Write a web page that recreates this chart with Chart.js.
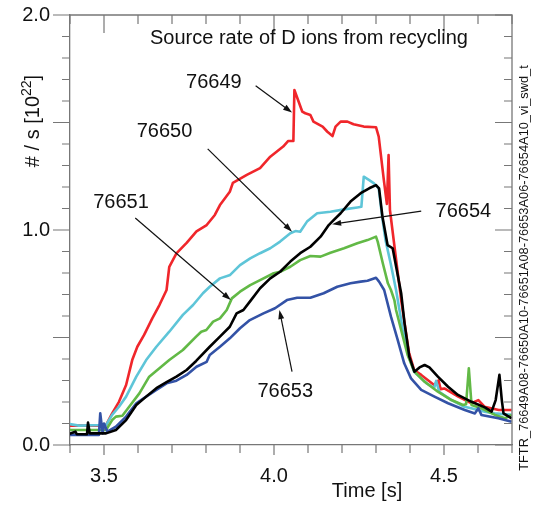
<!DOCTYPE html>
<html>
<head>
<meta charset="utf-8">
<script src="https://cdn.jsdelivr.net/npm/chart.js@4/dist/chart.umd.min.js"></script>
<style>
  html, body { margin: 0; padding: 0; background: #fff; }
  #wrap { width: 533px; height: 506px; }
</style>
</head>
<body>
<div id="wrap"><canvas id="chart" width="533" height="506"></canvas></div>
<script>
// Source rate of D ions from recycling, TFTR shots 76649..76654
// time [s] / rate [1e22 #/s]

const t76649 = [3.40, 3.45, 3.50, 3.506, 3.524, 3.544, 3.565, 3.583, 3.598, 3.618, 3.642, 3.663, 3.684, 3.692, 3.713, 3.743, 3.772, 3.802, 3.826, 3.841, 3.870, 3.879, 3.920, 3.959, 3.989, 4.027, 4.042, 4.057, 4.060, 4.083, 4.092, 4.107, 4.116, 4.143, 4.157, 4.172, 4.181, 4.196, 4.216, 4.234, 4.264, 4.300, 4.308, 4.323, 4.332, 4.337, 4.341, 4.374, 4.397, 4.412, 4.433, 4.471, 4.484, 4.490, 4.501, 4.542, 4.581, 4.601, 4.619, 4.661, 4.699];
const v76649 = [0.09, 0.09, 0.09, 0.093, 0.147, 0.201, 0.279, 0.395, 0.457, 0.512, 0.589, 0.651, 0.721, 0.829, 0.891, 0.940, 0.994, 1.023, 1.070, 1.116, 1.178, 1.219, 1.256, 1.288, 1.341, 1.388, 1.414, 1.414, 1.651, 1.551, 1.543, 1.535, 1.504, 1.481, 1.457, 1.437, 1.481, 1.504, 1.504, 1.492, 1.481, 1.478, 1.434, 1.233, 1.121, 1.349, 1.093, 0.674, 0.430, 0.349, 0.326, 0.279, 0.300, 0.260, 0.263, 0.225, 0.194, 0.209, 0.178, 0.163, 0.163];

const t76650 = [3.396, 3.426, 3.506, 3.524, 3.544, 3.565, 3.595, 3.624, 3.654, 3.692, 3.732, 3.762, 3.791, 3.811, 3.841, 3.871, 3.900, 3.930, 3.959, 3.989, 4.018, 4.048, 4.063, 4.077, 4.097, 4.127, 4.166, 4.206, 4.245, 4.257, 4.264, 4.279, 4.294, 4.308, 4.318, 4.328, 4.343, 4.359, 4.379, 4.397, 4.412, 4.448, 4.471, 4.477, 4.486, 4.522, 4.560, 4.580, 4.620, 4.649, 4.699];
const v76650 = [0.098, 0.090, 0.093, 0.140, 0.178, 0.225, 0.318, 0.395, 0.457, 0.527, 0.605, 0.651, 0.706, 0.736, 0.775, 0.791, 0.837, 0.868, 0.892, 0.915, 0.946, 0.985, 0.995, 0.992, 1.039, 1.078, 1.085, 1.096, 1.105, 1.108, 1.248, 1.233, 1.217, 1.194, 1.062, 0.953, 0.845, 0.721, 0.535, 0.409, 0.340, 0.288, 0.265, 0.298, 0.247, 0.209, 0.178, 0.171, 0.155, 0.147, 0.140];

const t76651 = [3.396, 3.506, 3.524, 3.535, 3.554, 3.574, 3.604, 3.633, 3.663, 3.692, 3.732, 3.771, 3.786, 3.801, 3.821, 3.841, 3.861, 3.876, 3.900, 3.930, 3.959, 3.999, 4.018, 4.048, 4.077, 4.107, 4.137, 4.166, 4.206, 4.245, 4.275, 4.300, 4.305, 4.320, 4.335, 4.344, 4.354, 4.359, 4.374, 4.393, 4.413, 4.443, 4.482, 4.522, 4.556, 4.565, 4.573, 4.581, 4.610, 4.650, 4.679, 4.699];
const v76651 = [0.070, 0.070, 0.116, 0.132, 0.136, 0.178, 0.240, 0.318, 0.357, 0.395, 0.442, 0.504, 0.527, 0.535, 0.574, 0.589, 0.628, 0.682, 0.713, 0.744, 0.767, 0.799, 0.806, 0.829, 0.860, 0.879, 0.876, 0.894, 0.915, 0.938, 0.953, 0.969, 0.946, 0.845, 0.752, 0.721, 0.674, 0.628, 0.535, 0.419, 0.341, 0.294, 0.248, 0.209, 0.186, 0.190, 0.357, 0.186, 0.171, 0.140, 0.124, 0.140];

const t76653 = [3.396, 3.485, 3.489, 3.496, 3.500, 3.510, 3.535, 3.565, 3.595, 3.624, 3.654, 3.684, 3.713, 3.743, 3.772, 3.802, 3.811, 3.841, 3.870, 3.900, 3.929, 3.969, 4.003, 4.038, 4.068, 4.107, 4.146, 4.186, 4.225, 4.255, 4.275, 4.300, 4.309, 4.324, 4.344, 4.364, 4.383, 4.403, 4.433, 4.472, 4.512, 4.561, 4.591, 4.601, 4.610, 4.660, 4.699];
const v76653 = [0.047, 0.047, 0.147, 0.054, 0.100, 0.062, 0.085, 0.132, 0.194, 0.225, 0.256, 0.287, 0.299, 0.326, 0.364, 0.387, 0.419, 0.457, 0.496, 0.543, 0.581, 0.612, 0.636, 0.674, 0.685, 0.685, 0.706, 0.736, 0.752, 0.760, 0.764, 0.778, 0.760, 0.721, 0.597, 0.488, 0.380, 0.310, 0.256, 0.225, 0.194, 0.163, 0.147, 0.171, 0.140, 0.124, 0.108];

const t76654 = [3.396, 3.416, 3.420, 3.450, 3.453, 3.458, 3.506, 3.535, 3.565, 3.595, 3.624, 3.654, 3.684, 3.713, 3.743, 3.771, 3.811, 3.841, 3.870, 3.890, 3.910, 3.929, 3.959, 3.989, 4.018, 4.048, 4.077, 4.107, 4.137, 4.161, 4.171, 4.196, 4.225, 4.255, 4.280, 4.300, 4.309, 4.319, 4.334, 4.349, 4.374, 4.384, 4.398, 4.413, 4.428, 4.443, 4.457, 4.482, 4.512, 4.541, 4.581, 4.620, 4.640, 4.652, 4.663, 4.670, 4.675, 4.699];
const v76654 = [0.050, 0.062, 0.050, 0.050, 0.104, 0.054, 0.054, 0.070, 0.116, 0.186, 0.225, 0.264, 0.292, 0.318, 0.349, 0.391, 0.457, 0.504, 0.550, 0.612, 0.628, 0.667, 0.729, 0.775, 0.806, 0.853, 0.892, 0.922, 0.969, 1.023, 1.039, 1.078, 1.132, 1.171, 1.194, 1.209, 1.194, 1.062, 0.930, 0.915, 0.706, 0.566, 0.411, 0.341, 0.361, 0.372, 0.361, 0.318, 0.271, 0.233, 0.201, 0.175, 0.155, 0.209, 0.326, 0.209, 0.147, 0.124];

// shot labels: text position and arrow (from -> to), in data units
const shotLabels = ["76649", "76650", "76651", "76654", "76653"];
const labelPos = [[3.823, 1.688], [3.678, 1.456], [3.550, 1.126], [4.557, 1.088], [4.033, 0.247]];
const arrowFrom = [[3.946, 1.671], [3.805, 1.377], [3.592, 1.056], [4.433, 1.088], [4.053, 0.341]];
const arrowTo = [[4.053, 1.546], [4.053, 0.992], [3.873, 0.674], [4.171, 1.027], [4.016, 0.628]];

const xTickLabels = [3.5, 4.0, 4.5];
const yTickLabels = [0, 1, 2];

const FONT = "'Liberation Sans', Arial, sans-serif";
const axisGray = "#777";

const pts = (t, v) => t.map((x, i) => ({ x: x, y: v[i] }));

const line = (label, t, v, color) => ({
  label: label,
  data: pts(t, v),
  borderColor: color,
  borderWidth: 2.6,
  pointRadius: 0,
  tension: 0,
  borderJoinStyle: "round",
  fill: false,
});

// frame, mirrored ticks, titles and the shot annotations
const decorations = {
  id: "decorations",
  afterDraw(chart) {
    const { ctx, chartArea: a, scales } = chart;
    const x = scales.x, y = scales.y;
    ctx.save();

    ctx.strokeStyle = axisGray;
    ctx.lineWidth = 1.3;
    ctx.beginPath();
    ctx.moveTo(a.left, a.top);
    ctx.lineTo(a.right, a.top);
    ctx.lineTo(a.right, a.bottom);
    ctx.stroke();

    ctx.lineWidth = 1.2;
    ctx.beginPath();
    for (let i = 0; i <= 20; i++) {
      const py = y.getPixelForValue(i / 10);
      const major = i % 5 === 0;
      ctx.moveTo(a.left, py); ctx.lineTo(a.left - (major ? 17 : 8), py);
      ctx.moveTo(a.right, py); ctx.lineTo(a.right - (major ? 17 : 8), py);
    }
    for (let i = 34; i <= 47; i++) {
      const px = x.getPixelForValue(i / 10);
      const major = i % 5 === 0;
      ctx.moveTo(px, a.bottom); ctx.lineTo(px, a.bottom + (major ? 10 : 8));
      ctx.moveTo(px, a.top); ctx.lineTo(px, a.top + (major ? 18 : 9));
    }
    ctx.stroke();

    ctx.fillStyle = "#111";
    ctx.font = "20px " + FONT;
    ctx.textBaseline = "alphabetic";
    ctx.textAlign = "left";
    ctx.fillText("Source rate of D ions from recycling", 150, 44);

    ctx.textAlign = "center";
    ctx.fillText("Time [s]", 367, 497);

    // y title, rotated, with superscript
    ctx.save();
    ctx.translate(39, 121);
    ctx.rotate(-Math.PI / 2);
    const main = "# / s [10";
    ctx.font = "20px " + FONT;
    const w1 = ctx.measureText(main).width;
    ctx.font = "14px " + FONT;
    const w2 = ctx.measureText("22").width;
    ctx.font = "20px " + FONT;
    const w3 = ctx.measureText("]").width;
    let sx = -(w1 + w2 + w3) / 2;
    ctx.textAlign = "left";
    ctx.fillText(main, sx, 0);
    ctx.font = "14px " + FONT;
    ctx.fillText("22", sx + w1, -8);
    ctx.font = "20px " + FONT;
    ctx.fillText("]", sx + w1 + w2, 0);
    ctx.restore();

    // file name on the right
    ctx.save();
    ctx.translate(528, 268);
    ctx.rotate(-Math.PI / 2);
    ctx.font = "12.8px " + FONT;
    ctx.textAlign = "center";
    ctx.fillText("TFTR_76649A08-76650A10-76651A08-76653A06-76654A10_vi_swd_t", 0, 0);
    ctx.restore();

    // shot labels with arrows
    ctx.font = "20px " + FONT;
    ctx.textAlign = "center";
    ctx.textBaseline = "middle";
    ctx.strokeStyle = "#111";
    ctx.lineWidth = 1.2;
    shotLabels.forEach((s, i) => {
      ctx.fillText(s, x.getPixelForValue(labelPos[i][0]), y.getPixelForValue(labelPos[i][1]));
      const x0 = x.getPixelForValue(arrowFrom[i][0]), y0 = y.getPixelForValue(arrowFrom[i][1]);
      const x1 = x.getPixelForValue(arrowTo[i][0]), y1 = y.getPixelForValue(arrowTo[i][1]);
      const ang = Math.atan2(y1 - y0, x1 - x0);
      ctx.beginPath();
      ctx.moveTo(x0, y0);
      ctx.lineTo(x1 - 6 * Math.cos(ang), y1 - 6 * Math.sin(ang));
      ctx.stroke();
      ctx.beginPath();
      ctx.moveTo(x1, y1);
      ctx.lineTo(x1 - 9 * Math.cos(ang) + 3 * Math.sin(ang), y1 - 9 * Math.sin(ang) - 3 * Math.cos(ang));
      ctx.lineTo(x1 - 9 * Math.cos(ang) - 3 * Math.sin(ang), y1 - 9 * Math.sin(ang) + 3 * Math.cos(ang));
      ctx.closePath();
      ctx.fill();
    });

    ctx.restore();
  },
};

const ctx = document.getElementById("chart").getContext("2d");
new Chart(ctx, {
  type: "line",
  data: {
    datasets: [
      line("76654", t76654, v76654, "#000000"),
      line("76653", t76653, v76653, "#3352a6"),
      line("76651", t76651, v76651, "#62b946"),
      line("76650", t76650, v76650, "#5ec5d8"),
      line("76649", t76649, v76649, "#f0262b"),
    ],
  },
  options: {
    responsive: false,
    animation: false,
    layout: { padding: { left: 0, top: 15, right: 21, bottom: 0 } },
    plugins: {
      legend: { display: false },
      tooltip: { enabled: false },
    },
    scales: {
      x: {
        type: "linear",
        min: 3.4,
        max: 4.7,
        afterFit: (s) => { s.height = 61; s.paddingLeft = 0; s.paddingRight = 0; },
        grid: { drawOnChartArea: false, drawTicks: false },
        border: { display: true, color: axisGray, width: 1.3 },
        afterBuildTicks: (s) => { s.ticks = xTickLabels.map((v) => ({ value: v })); },
        ticks: {
          padding: 19,
          maxRotation: 0,
          color: "#111",
          font: { family: FONT, size: 20 },
          callback: (v) => v.toFixed(1),
        },
      },
      y: {
        min: 0,
        max: 2,
        afterFit: (s) => { s.width = 70; s.paddingTop = 0; s.paddingBottom = 0; },
        grid: { drawOnChartArea: false, drawTicks: false },
        border: { display: true, color: axisGray, width: 1.3 },
        afterBuildTicks: (s) => { s.ticks = yTickLabels.map((v) => ({ value: v })); },
        ticks: {
          padding: 20,
          color: "#111",
          font: { family: FONT, size: 20 },
          callback: (v) => v.toFixed(1),
        },
      },
    },
  },
  plugins: [decorations],
});
</script>
</body>
</html>
